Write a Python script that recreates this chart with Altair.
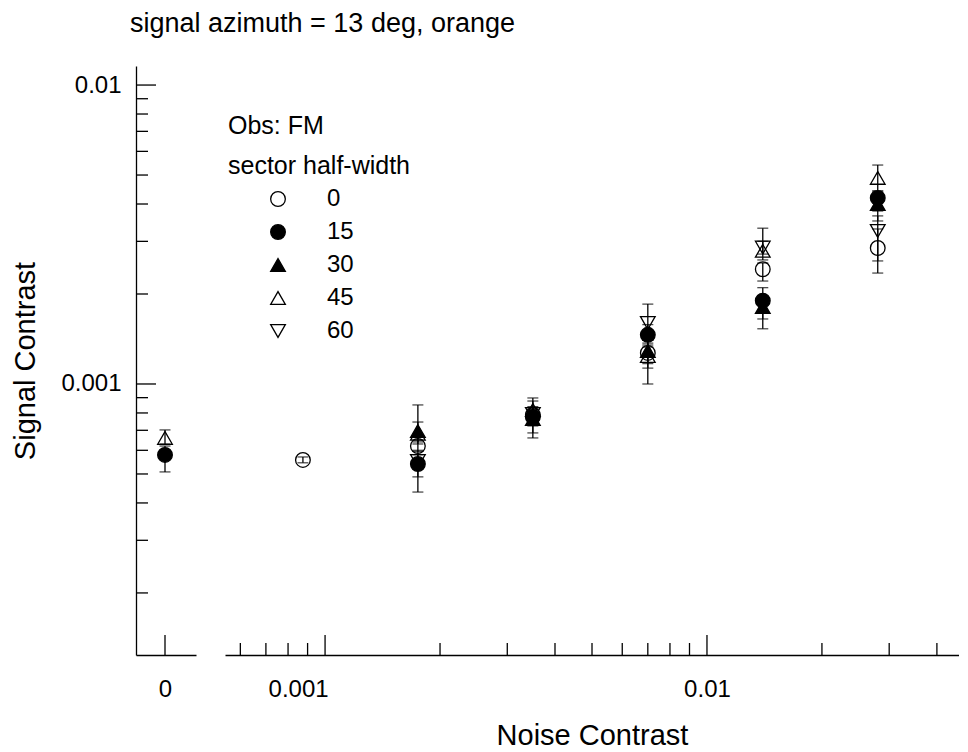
import altair as alt
import pandas as pd

FONT = "Liberation Sans"

# ---------------- data ----------------
half_widths = ["0", "15", "30", "45", "60"]
shapes = ["circle", "circle", "triangle-up", "triangle-up", "triangle-down"]
fills = ["transparent", "black", "black", "transparent", "transparent"]
strokes = ["black", "black", "black", "black", "black"]
sizes = [215, 215, 370, 370, 370]

noise_levels = [0.0, 0.000875, 0.00175, 0.0035, 0.007, 0.014, 0.028]

sig_0 = [None, 0.000557, 0.000620, 0.000788, 0.00127, 0.00242, 0.00285]
lo_0 = [None, 0.000545, 0.000595, 0.000740, 0.00113, 0.00221, 0.00235]
hi_0 = [None, 0.000570, 0.000650, 0.000840, 0.00137, 0.00254, 0.00330]

sig_15 = [0.000579, None, 0.000540, 0.000776, 0.00146, 0.00190, 0.00419]
lo_15 = [0.000508, None, 0.000489, 0.000686, 0.00133, 0.00165, 0.00379]
hi_15 = [0.000620, None, 0.000580, 0.000830, 0.00158, 0.00210, 0.00442]

sig_30 = [None, None, 0.000696, 0.000764, 0.00129, 0.00181, 0.00400]
lo_30 = [None, None, 0.000640, 0.000660, 0.00117, 0.00153, 0.00351]
hi_30 = [None, None, 0.000851, 0.000820, 0.00140, 0.00195, 0.00430]

sig_45 = [0.000660, None, 0.000681, 0.000819, 0.00124, 0.00279, 0.00489]
lo_45 = [0.000630, None, 0.000630, 0.000760, 0.00100, 0.00260, 0.00442]
hi_45 = [0.000702, None, 0.000746, 0.000898, 0.00135, 0.00332, 0.00540]

sig_60 = [None, None, 0.000553, 0.000794, 0.00160, 0.00286, 0.00325]
lo_60 = [None, None, 0.000435, 0.000724, 0.00140, 0.00272, 0.00258]
hi_60 = [None, None, 0.000600, 0.000877, 0.00185, 0.00300, 0.00365]

signal = {"0": sig_0, "15": sig_15, "30": sig_30, "45": sig_45, "60": sig_60}
lower = {"0": lo_0, "15": lo_15, "30": lo_30, "45": lo_45, "60": lo_60}
upper = {"0": hi_0, "15": hi_15, "30": hi_30, "45": hi_45, "60": hi_60}

y_major = [0.001, 0.01]
y_minor = [0.0002, 0.0003, 0.0004, 0.0005, 0.0006, 0.0007, 0.0008, 0.0009,
           0.002, 0.003, 0.004, 0.005, 0.006, 0.007, 0.008, 0.009]
x_zero = [0.0]
x_major = [0.001, 0.01]
x_minor = [0.0006, 0.0007, 0.0008, 0.0009,
           0.002, 0.003, 0.004, 0.005, 0.006, 0.007, 0.008, 0.009,
           0.02, 0.03, 0.04]

title_text = "signal azimuth = 13 deg, orange"
legend_title = ["Obs: FM", "sector half-width"]

# ---------------- tables ----------------
rows = []
for hw in half_widths:
    for i, nx in enumerate(noise_levels):
        s = signal[hw][i]
        if s is None:
            continue
        rows.append({"hw": hw, "x": nx, "y": s, "lo": lower[hw][i], "hi": upper[hw][i]})
df = pd.DataFrame(rows)
caps = pd.concat([
    df[["hw", "x", "lo"]].rename(columns={"lo": "y"}),
    df[["hw", "x", "hi"]].rename(columns={"hi": "y"}),
])

# ---------------- geometry ----------------
LW, RW, H = 60, 734, 589
MAJ, MIN = 20, 12

y_scale = alt.Scale(type="log", domain=[0.000124, 0.01158], nice=False)
xl_scale = alt.Scale(type="linear", domain=[-1.0, 1.069], nice=False, zero=False)
xr_scale = alt.Scale(type="log", domain=[0.000547, 0.0457], nice=False)

common_axis = dict(grid=False, ticks=False, domainColor="black", domainWidth=1.3,
                   labelFont=FONT, labelFontSize=24, labelColor="black",
                   titleFont=FONT, titleFontSize=29, titleFontWeight="normal",
                   titleColor="black", labelOverlap=False, labelFlush=False)

y_axis = alt.Axis(values=y_major, format="~g", labelPadding=15, title="Signal Contrast",
                  titlePadding=20, **common_axis)
xl_axis = alt.Axis(values=x_zero, format="~g", labelPadding=22, title=None, **common_axis)
xr_axis = alt.Axis(values=x_major, format="~g", labelPadding=22, title="Noise Contrast",
                   titlePadding=20,
                   labelOffset=alt.condition("datum.value < 0.005", alt.value(-27), alt.value(0)),
                   **common_axis)

legend = alt.Legend(
    title=legend_title, orient="none", legendX=3, legendY=48, padding=0,
    titleFont=FONT, titleFontSize=25, titleFontWeight="normal", titleColor="black",
    titleLineHeight=40, titlePadding=8, titleAnchor="start", titleLimit=600,
    labelFont=FONT, labelFontSize=24, labelColor="black",
    symbolOffset=38, labelOffset=37, rowPadding=9,
    symbolStrokeColor="black", symbolStrokeWidth=1.3,
)


def panel(pts, cp, xscale, xaxis, yaxis, lgd, width, xmaj, xmin, with_y_ticks):
    X = alt.X("x:Q", scale=xscale, axis=xaxis)
    Y = alt.Y("y:Q", scale=y_scale, axis=yaxis)
    points = alt.Chart(pts).mark_point(filled=False, strokeWidth=1.3, opacity=1).encode(
        x=X, y=Y,
        shape=alt.Shape("hw:O", scale=alt.Scale(domain=half_widths, range=shapes), legend=lgd),
        fill=alt.Fill("hw:O", scale=alt.Scale(domain=half_widths, range=fills), legend=lgd),
        stroke=alt.Stroke("hw:O", scale=alt.Scale(domain=half_widths, range=strokes), legend=lgd),
        size=alt.Size("hw:O", scale=alt.Scale(domain=half_widths, range=sizes), legend=lgd),
    )
    bars = alt.Chart(pts).mark_rule(color="black", strokeWidth=1.3).encode(
        x=X, y=alt.Y("lo:Q", scale=y_scale, axis=yaxis), y2="hi:Q")
    capm = alt.Chart(cp).mark_tick(orient="horizontal", size=11, thickness=1.3,
                                   color="black").encode(x=X, y=Y)
    layers = [points, bars, capm]
    xt1 = alt.Chart(pd.DataFrame({"x": xmaj})).mark_rule(color="black", strokeWidth=1.3).encode(
        x=X, y=alt.value(H), y2=alt.value(H - MAJ))
    layers.append(xt1)
    if xmin:
        xt2 = alt.Chart(pd.DataFrame({"x": xmin})).mark_rule(color="black", strokeWidth=1.3).encode(
            x=X, y=alt.value(H), y2=alt.value(H - MIN))
        layers.append(xt2)
    if with_y_ticks:
        yt1 = alt.Chart(pd.DataFrame({"y": y_major})).mark_rule(color="black", strokeWidth=1.3).encode(
            y=Y, x=alt.value(0), x2=alt.value(MAJ))
        yt2 = alt.Chart(pd.DataFrame({"y": y_minor})).mark_rule(color="black", strokeWidth=1.3).encode(
            y=Y, x=alt.value(0), x2=alt.value(MIN))
        layers += [yt1, yt2]
    return alt.layer(*layers).properties(width=width, height=H)


left_panel = panel(df[df.x == 0], caps[caps.x == 0], xl_scale, xl_axis, y_axis, None,
                   LW, x_zero, [], True)
right_panel = panel(df[df.x > 0], caps[caps.x > 0], xr_scale, xr_axis, None, legend,
                    RW, x_major, x_minor, False)

chart = alt.hconcat(left_panel, right_panel, spacing=29).resolve_scale(
    x="independent", y="independent", shape="independent", fill="independent",
    stroke="independent", size="independent",
).properties(
    title=alt.TitleParams(title_text, anchor="start", frame="group", font=FONT, fontSize=27,
                          fontWeight="normal", color="black", dx=-6, offset=28),
    padding={"left": 3, "top": 2, "right": 0, "bottom": 0},
    background="white",
).configure_view(strokeWidth=0, stroke="transparent")

chart.save("out.html", embed_options={"renderer": "svg", "actions": False})
